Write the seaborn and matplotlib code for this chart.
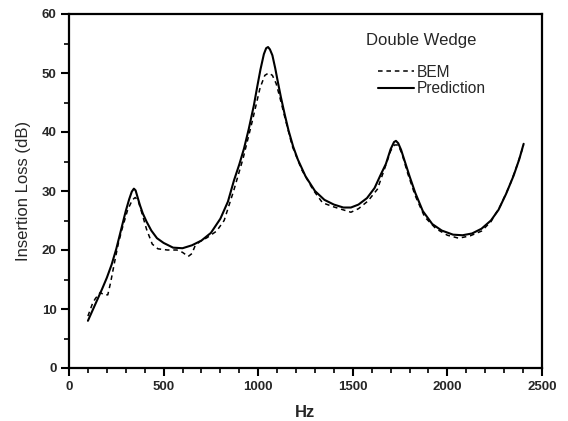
import numpy as np
import pandas as pd
import matplotlib
matplotlib.use("Agg")
import matplotlib.pyplot as plt
from matplotlib.ticker import MultipleLocator
import seaborn as sns

# Prediction (solid)
pred_hz = [100, 125, 150, 175, 200, 225, 250, 275, 300, 318, 332, 343, 352, 362, 375, 390,
           410, 435, 465, 500, 550, 600, 650, 700, 750, 800, 840, 872, 900, 925, 950, 977,
           995, 1012, 1030, 1042, 1052, 1062, 1075, 1090, 1105, 1120, 1140, 1160, 1185,
           1210, 1250, 1300, 1350, 1400, 1450, 1490, 1530, 1575, 1615, 1645, 1675, 1700,
           1718, 1728, 1740, 1755, 1775, 1800, 1830, 1870, 1920, 1970, 2030, 2080, 2130,
           2180, 2230, 2270, 2310, 2350, 2380, 2403]
pred_il = [8.0, 9.8, 11.6, 13.4, 15.3, 17.5, 20.2, 23.4, 26.6, 28.6, 29.9, 30.4, 30.1, 29.0,
           27.6, 26.2, 24.8, 23.3, 22.0, 21.2, 20.4, 20.3, 20.8, 21.6, 22.9, 25.3, 28.2,
           31.8, 34.5, 37.2, 40.5, 44.5, 47.7, 50.6, 53.2, 54.2, 54.4, 54.0, 53.0, 50.8,
           48.3, 45.9, 43.0, 40.3, 37.5, 35.3, 32.5, 30.0, 28.5, 27.7, 27.2, 27.2, 27.7,
           28.8, 30.5, 32.6, 34.6, 37.1, 38.3, 38.5, 38.1, 37.0, 35.0, 32.5, 29.7, 26.6,
           24.4, 23.3, 22.6, 22.5, 22.8, 23.6, 25.0, 26.8, 29.5, 32.6, 35.4, 38.0]

# BEM (dashed)
bem_hz = [100, 125, 140, 165, 185, 205, 220, 240, 260, 280, 310, 335, 350, 365, 385, 410,
          440, 470, 520, 570, 600, 630, 650, 665, 690, 730, 780, 820, 870, 920, 970, 1010,
          1035, 1055, 1075, 1095, 1115, 1140, 1180, 1230, 1290, 1340, 1400, 1450, 1490,
          1530, 1580, 1630, 1665, 1700, 1720, 1740, 1760, 1790, 1830, 1880, 1940, 2000,
          2060, 2120, 2180, 2230, 2280, 2330, 2370, 2403]
bem_il = [8.8, 11.0, 11.8, 12.8, 12.4, 12.4, 14.5, 17.8, 21.0, 23.5, 26.8, 28.5, 28.9, 28.4,
          26.3, 23.5, 21.0, 20.2, 20.0, 20.0, 19.6, 18.9, 19.4, 20.6, 21.4, 22.1, 23.2,
          25.0, 30.0, 35.5, 42.0, 47.5, 49.6, 50.0, 49.6, 48.2, 45.8, 42.6, 37.6, 33.6,
          30.2, 28.0, 27.3, 26.8, 26.4, 27.0, 28.3, 30.3, 33.5, 36.8, 37.8, 37.8, 36.3,
          33.0, 29.2, 25.6, 23.6, 22.5, 22.0, 22.4, 23.2, 24.8, 27.5, 31.0, 34.5, 37.8]

series_names = ["BEM", "Prediction"]
legend_title = "Double Wedge"

df = pd.concat([
    pd.DataFrame({"Hz": bem_hz, "IL": bem_il, "series": series_names[0]}),
    pd.DataFrame({"Hz": pred_hz, "IL": pred_il, "series": series_names[1]}),
], ignore_index=True)

sns.set_style("white")
plt.rcParams["font.family"] = ["Liberation Sans", "DejaVu Sans"]

fig = plt.figure(figsize=(5.68, 4.21), dpi=100)
ax = fig.add_axes([69 / 568, 1 - 368 / 421, 473 / 568, 354 / 421])

sns.lineplot(data=df, x="Hz", y="IL", style="series", style_order=series_names,
             dashes={"BEM": (3, 2.5), "Prediction": ""}, color="black",
             linewidth=1.5, estimator=None, ax=ax, legend=False)
# thinner dashed line
ax.lines[0].set_linewidth(1.1)

ax.set_xlim(0, 2500)
ax.set_ylim(0, 60)
ax.xaxis.set_major_locator(MultipleLocator(500))
ax.xaxis.set_minor_locator(MultipleLocator(100))
ax.yaxis.set_major_locator(MultipleLocator(10))
ax.yaxis.set_minor_locator(MultipleLocator(5))
ax.tick_params(which="major", direction="out", length=5.5, width=1.5, color="black",
               labelsize=9.5, bottom=True, left=True, top=False, right=False, pad=3.5)
ax.tick_params(which="minor", direction="out", length=3.5, width=1.2, color="black",
               bottom=True, left=True, top=False, right=False)
for lab in ax.get_xticklabels() + ax.get_yticklabels():
    lab.set_fontweight("bold")
for s in ax.spines.values():
    s.set_color("black")
    s.set_linewidth(1.6)

ax.set_xlabel("Hz", fontsize=12, fontweight="bold", labelpad=9)
ax.set_ylabel("Insertion Loss (dB)", fontsize=12, labelpad=8)

from matplotlib.lines import Line2D
handles = [Line2D([], [], color="black", lw=1.1, dashes=(3, 2.5)),
           Line2D([], [], color="black", lw=1.5)]
leg = ax.legend(handles, series_names, frameon=False, loc="upper left",
                bbox_to_anchor=(0.653, 0.857), borderaxespad=0, borderpad=0,
                fontsize=11.2, handlelength=2.3, handletextpad=0.2, labelspacing=0.12)
ax.text(0.628, 0.924, legend_title, transform=ax.transAxes, fontsize=12,
        ha="left", va="center")

fig.savefig("out.png", dpi=100)
